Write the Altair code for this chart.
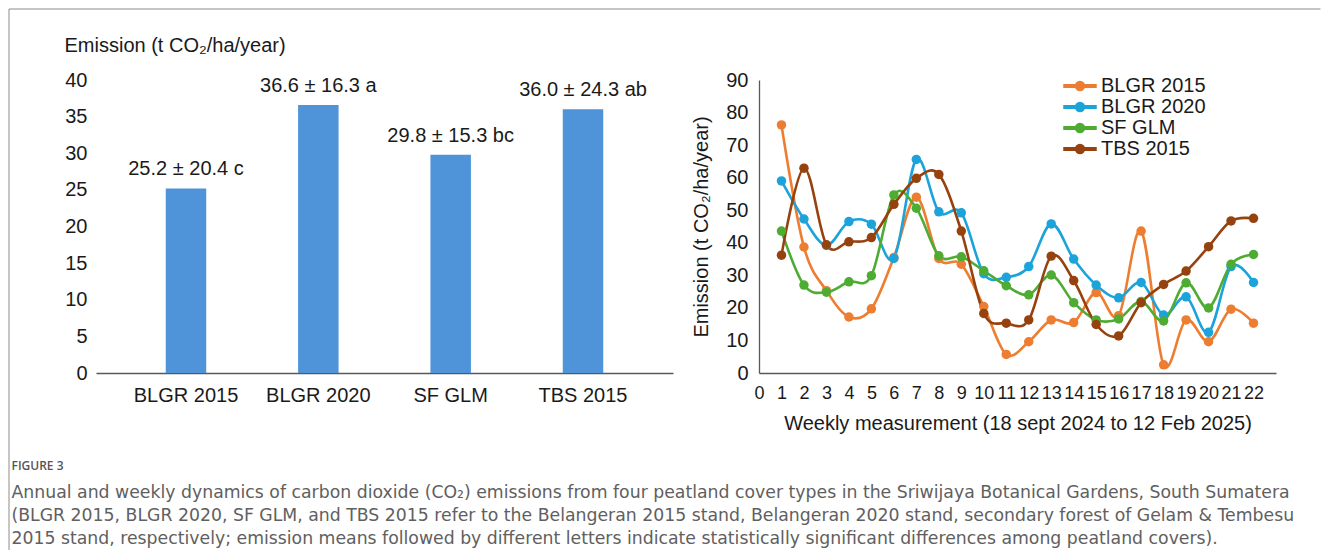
import altair as alt
import pandas as pd

FONT = "Liberation Sans"
CAP_FONT = "DejaVu Sans"

# ---------------- data ----------------
covers = ["BLGR 2015", "BLGR 2020", "SF GLM", "TBS 2015"]
annual_means = [25.2, 36.6, 29.8, 36.0]
annual_labels = ["25.2 ± 20.4 c", "36.6 ± 16.3 a", "29.8 ± 15.3 bc", "36.0 ± 24.3 ab"]

weeks = list(range(1, 23))
blgr2015 = [76.2, 38.7, 25.3, 17.2, 19.7, 35.5, 54.0, 35.2, 33.4, 20.4, 5.7, 9.6,
            16.3, 15.5, 24.7, 17.6, 43.6, 2.5, 16.3, 9.6, 19.6, 15.3]
blgr2020 = [59.0, 47.3, 39.2, 46.5, 45.7, 35.2, 65.6, 49.5, 49.2, 30.5, 29.4, 32.7,
            45.8, 35.0, 27.0, 23.1, 27.8, 17.8, 23.4, 12.5, 32.7, 27.8]
sfglm = [43.6, 27.0, 24.8, 28.0, 29.9, 54.7, 50.6, 36.0, 35.7, 31.4, 26.8, 24.0,
         30.1, 21.6, 16.3, 16.6, 22.0, 16.0, 27.7, 20.0, 33.4, 36.4]
tbs2015 = [36.2, 62.9, 39.4, 40.3, 41.6, 51.8, 59.8, 61.0, 43.6, 18.3, 15.3, 16.3,
           35.9, 28.4, 14.9, 11.4, 21.6, 27.2, 31.3, 38.8, 46.7, 47.5]
series_colors = ["#ED7D31", "#1BA3DA", "#4EAC33", "#96420F"]

bar_tick_values = [0, 5, 10, 15, 20, 25, 30, 35, 40]
line_y_ticks = [0, 10, 20, 30, 40, 50, 60, 70, 80, 90]
line_x_ticks = list(range(0, 23))

y_title = "Emission (t CO₂/ha/year)"
x_title = "Weekly measurement (18 sept 2024 to 12 Feb 2025)"

caption_head = "FIGURE 3"
caption_lines = [
    "Annual and weekly dynamics of carbon dioxide (CO₂) emissions from four peatland cover types in the Sriwijaya Botanical Gardens, South Sumatera",
    "(BLGR 2015, BLGR 2020, SF GLM, and TBS 2015 refer to the Belangeran 2015 stand, Belangeran 2020 stand, secondary forest of Gelam & Tembesu",
    "2015 stand, respectively; emission means followed by different letters indicate statistically significant differences among peatland covers).",
]

# ---------------- tables ----------------
bar_df = pd.DataFrame({"cover": covers, "mean": annual_means, "label": annual_labels})
all_vals = blgr2015 + blgr2020 + sfglm + tbs2015
series_col = [c for c in covers for _ in weeks]
long_df = pd.DataFrame({
    "week": weeks * 4,
    "value": all_vals,
    "series": series_col,
    "line_series": series_col,
})
one = pd.DataFrame({"k": [0]})
head_df = pd.DataFrame({"t": [caption_head]})
body_df = pd.DataFrame({"t": ["\n".join(caption_lines)]})

# ---------------- bar panel ----------------
xb = alt.X(
    "cover:N", sort=covers,
    scale=alt.Scale(paddingInner=0.694, paddingOuter=0.527),
    axis=alt.Axis(title=None, labelAngle=0, ticks=False, domainColor="#595959",
                  domainWidth=1.3, labelFontSize=20, labelPadding=12),
)
yb = alt.Y(
    "mean:Q",
    scale=alt.Scale(domain=[0, 40], nice=False),
    axis=alt.Axis(values=bar_tick_values, grid=False, domain=False, ticks=False,
                  labelOverlap=False, labelFontSize=20, labelPadding=9, title=y_title,
                  titleAngle=0, titleX=-32, titleY=-35, titleAlign="left",
                  titleBaseline="middle", titleFontSize=20, titleFontWeight="normal"),
)
bar_base = alt.Chart(bar_df).encode(x=xb, y=yb)
bars = bar_base.mark_bar(color="#4F94D9")
bar_text = bar_base.mark_text(
    baseline="middle", dy=-19, fontSize=20, font=FONT, color="#1a1a1a"
).encode(text="label:N")

frame_top = alt.Chart(one).mark_rule(color="#8c8c8c", strokeWidth=1).encode(
    x=alt.value(-87), x2=alt.value(1224.5), y=alt.value(-71))
frame_left = alt.Chart(one).mark_rule(color="#8c8c8c", strokeWidth=1).encode(
    x=alt.value(-87), y=alt.value(-71), y2=alt.value(470))
cap_head = alt.Chart(head_df).mark_text(
    align="left", baseline="middle", font="Open Sans", fontSize=12, fontWeight=600,
    color="#555555").encode(x=alt.value(-84.5), y=alt.value(386), text="t:N")
cap_body = alt.Chart(body_df).mark_text(
    align="left", baseline="alphabetic", font=CAP_FONT, fontSize=17.3, lineBreak="\n",
    lineHeight=23.2, color="#606060").encode(x=alt.value(-84.5), y=alt.value(418), text="t:N")

bar_panel = alt.layer(bars, bar_text, frame_top, frame_left, cap_head, cap_body).properties(
    width=577, height=293)

# ---------------- line panel ----------------
color_scale = alt.Scale(domain=covers, range=series_colors)
xl = alt.X(
    "week:Q", scale=alt.Scale(domain=[0, 23], nice=False),
    axis=alt.Axis(values=line_x_ticks, grid=False, ticks=False, domainColor="#595959",
                  domainWidth=1.3, labelFontSize=18, labelPadding=11, labelFlush=False,
                  labelOverlap=False, title=x_title, titleFontSize=20,
                  titleFontWeight="normal", titlePadding=11),
)
yl = alt.Y(
    "value:Q", scale=alt.Scale(domain=[0, 90], nice=False),
    axis=alt.Axis(values=line_y_ticks, grid=False, ticks=False, domainColor="#595959",
                  domainWidth=1.3, labelFontSize=20, labelPadding=11, labelOverlap=False,
                  title=y_title, titleFontSize=20, titleFontWeight="normal", titlePadding=14),
)
legend_symbol = ("M-1.6,-0.125H1.6V0.125H-1.6Z"
                 "M-0.45,0A0.45,0.45 0 1,1 0.45,0A0.45,0.45 0 1,1 -0.45,0Z")


def make_legend():
    return alt.Legend(title=None, orient="none", legendX=310, legendY=-5,
                      symbolType=legend_symbol, symbolSize=400, labelFontSize=20,
                      labelOffset=10, rowPadding=0, padding=0)


line_base = alt.Chart(long_df).encode(x=xl, y=yl)
lines = line_base.mark_line(interpolate="cardinal", strokeWidth=2.6).encode(
    stroke=alt.Stroke("line_series:N", scale=color_scale, legend=make_legend()))
points = line_base.mark_point(filled=True, size=90, opacity=1, shape="circle").encode(
    color=alt.Color("series:N", scale=color_scale, legend=make_legend()))
line_panel = alt.layer(lines, points).properties(width=517, height=293)

chart = alt.hconcat(bar_panel, line_panel, spacing=86, bounds="flush").resolve_scale(
    color="independent", stroke="independent"
).resolve_legend(color="independent", stroke="independent").properties(
    padding=0, background="white"
).configure_view(stroke=None).configure_axis(
    labelFont=FONT, titleFont=FONT, labelColor="#1a1a1a", titleColor="#1a1a1a",
    labelOverlap=False
).configure_legend(labelFont=FONT, labelColor="#1a1a1a")

chart.save("out.html", embed_options={"renderer": "svg", "actions": False})
